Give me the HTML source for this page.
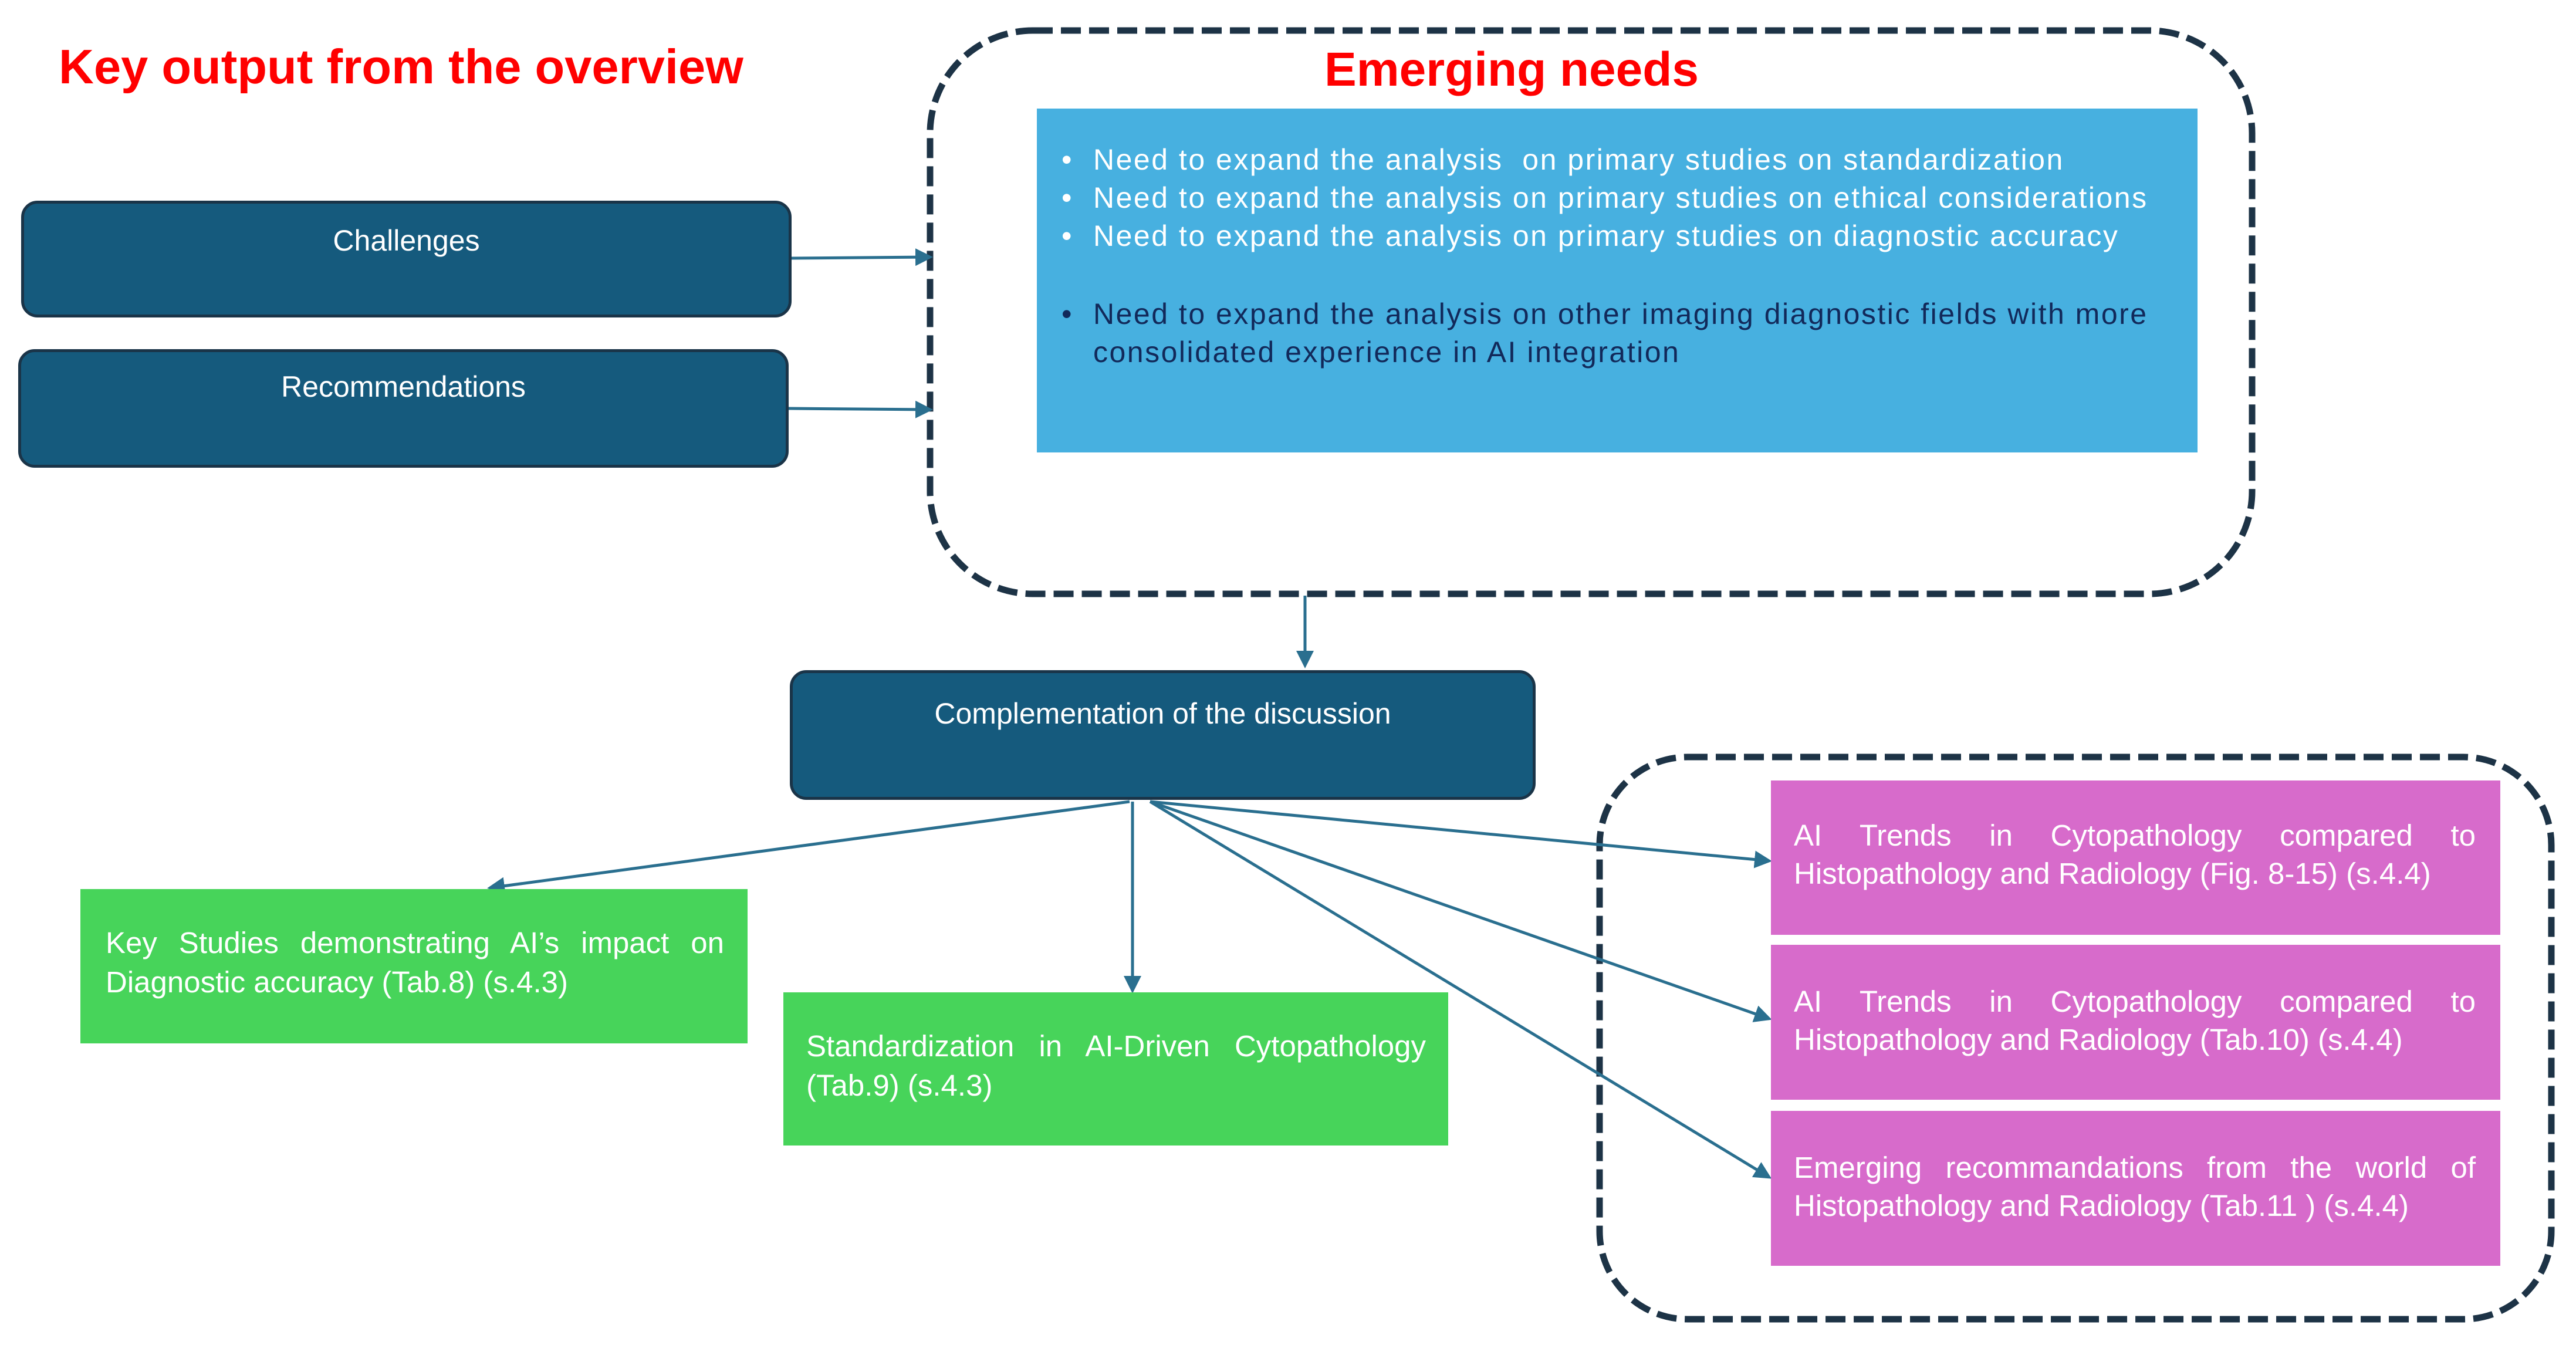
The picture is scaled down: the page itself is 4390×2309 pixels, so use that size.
<!DOCTYPE html>
<html><head><meta charset="utf-8"><style>
body{margin:0;width:4390px;height:2309px;background:#fff;position:relative;overflow:hidden;font-family:"Liberation Sans",Arial,sans-serif}
.a{position:absolute;box-sizing:border-box}
.dk{background:#155a7d;border:5px solid #1a3448;border-radius:28px;color:#fff;font-size:50px;text-align:center}
.g{background:#47d45a;color:#fff;font-size:51px;line-height:67px;text-align:justify}
.p{background:#d76bcb;color:#fff;font-size:51px;line-height:65px;text-align:justify}
.t{position:absolute;white-space:nowrap}
</style></head><body>
<svg class="a" style="left:0;top:0" width="4390" height="2309">
<defs><marker id="m" markerWidth="6" markerHeight="6" refX="5" refY="3" orient="auto" markerUnits="strokeWidth"><path d="M0,0 L6,3 L0,6 z" fill="#2a6f8f"/></marker></defs>
<rect x="1585" y="52" width="2253" height="960" rx="175" fill="none" stroke="#1d3346" stroke-width="11" stroke-dasharray="34,14"/>
<rect x="2726" y="1290" width="1622" height="958" rx="150" fill="none" stroke="#1d3346" stroke-width="11" stroke-dasharray="34,14"/>
<g stroke="#2a6f8f" stroke-width="5" fill="none" marker-end="url(#m)">
<line x1="1349" y1="440" x2="1585" y2="438"/>
<line x1="1344" y1="696" x2="1585" y2="698"/>
<line x1="2224" y1="1015" x2="2224" y2="1134"/>
<line x1="1925" y1="1366" x2="835" y2="1513"/>
<line x1="1930" y1="1366" x2="1930" y2="1688"/>
<line x1="1960" y1="1366" x2="3015" y2="1467"/>
<line x1="1960" y1="1366" x2="3015" y2="1736"/>
<line x1="1960" y1="1366" x2="3015" y2="2006"/>
</g>
</svg>
<div class="t" style="left:100px;top:66px;font-size:83px;font-weight:bold;color:#f00">Key output from the overview</div>
<div class="t" style="left:2257px;top:72px;font-size:82px;font-weight:bold;color:#f00">Emerging needs</div>
<div class="a" style="left:1767px;top:185px;width:1978px;height:586px;background:#47b0e0;font-size:50px;line-height:65px;letter-spacing:2.5px">
<div class="t" style="left:42px;top:55px;color:#fff">•</div><div class="t" style="left:96px;top:55px;color:#fff">Need to expand the analysis&nbsp; on primary studies on standardization</div>
<div class="t" style="left:42px;top:120px;color:#fff">•</div><div class="t" style="left:96px;top:120px;color:#fff">Need to expand the analysis on primary studies on ethical considerations</div>
<div class="t" style="left:42px;top:185px;color:#fff">•</div><div class="t" style="left:96px;top:185px;color:#fff">Need to expand the analysis on primary studies on diagnostic accuracy</div>
<div class="t" style="left:42px;top:318px;color:#12295a">•</div><div class="t" style="left:96px;top:318px;color:#12295a">Need to expand the analysis on other imaging diagnostic fields with more</div>
<div class="t" style="left:96px;top:383px;color:#12295a">consolidated experience in AI integration</div>
</div>
<div class="a dk" style="left:36px;top:342px;width:1313px;height:199px;padding-top:34px">Challenges</div>
<div class="a dk" style="left:31px;top:595px;width:1313px;height:202px;padding-top:30px">Recommendations</div>
<div class="a dk" style="left:1346px;top:1142px;width:1271px;height:221px;padding-top:40px">Complementation of the discussion</div>
<div class="a g" style="left:137px;top:1515px;width:1137px;height:263px;padding:58px 40px 0 43px">Key Studies demonstrating AI’s impact on Diagnostic accuracy (Tab.8) (s.4.3)</div>
<div class="a g" style="left:1335px;top:1691px;width:1133px;height:261px;padding:58px 38px 0 39px">Standardization in AI-Driven Cytopathology (Tab.9) (s.4.3)</div>
<div class="a p" style="left:3018px;top:1330px;width:1243px;height:263px;padding:61px 42px 0 39px">AI Trends in Cytopathology compared to Histopathology and Radiology (Fig. 8-15) (s.4.4)</div>
<div class="a p" style="left:3018px;top:1610px;width:1243px;height:264px;padding:64px 42px 0 39px">AI Trends in Cytopathology compared to Histopathology and Radiology (Tab.10) (s.4.4)</div>
<div class="a p" style="left:3018px;top:1893px;width:1243px;height:264px;padding:64px 42px 0 39px">Emerging recommandations from the world of Histopathology and Radiology (Tab.11 ) (s.4.4)</div>
</body></html>
